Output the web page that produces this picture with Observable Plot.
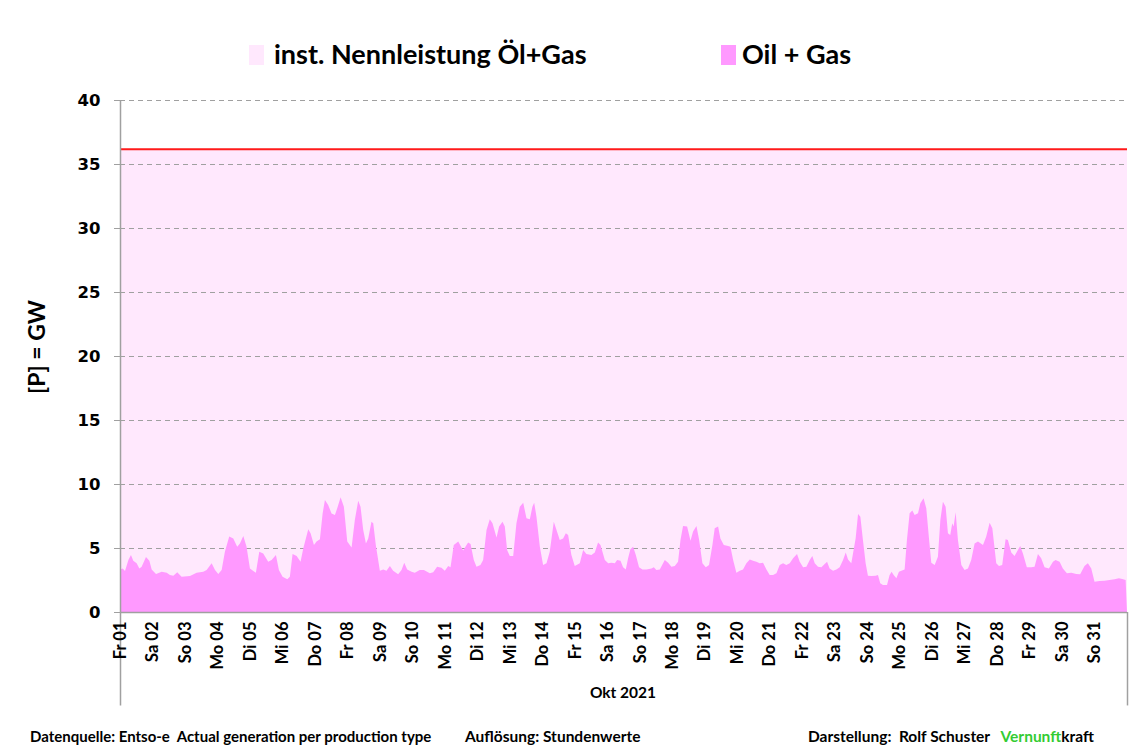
<!DOCTYPE html>
<html>
<head>
<meta charset="utf-8">
<script src="https://cdn.jsdelivr.net/npm/d3@7"></script>
<script src="https://cdn.jsdelivr.net/npm/@observablehq/plot@0.6"></script>
<style>
  html, body { margin: 0; padding: 0; background: #fff; }
  #wrap { position: relative; width: 1133px; height: 746px; overflow: hidden; font-family: Lato, "Open Sans", sans-serif; font-weight: bold; color: #000; }
  #wrap svg { position: absolute; left: 0; top: 0; }
  .ov { position: absolute; white-space: nowrap; line-height: 1.2; }
  .sw { position: absolute; width: 15px; height: 20px; }
</style>
</head>
<body>
<div id="wrap"></div>
<script>
// ---- data ----
// hour of October 2021 (0 = Fr 01 00:00) and generation Oil + Gas in GW
const hours = [0,2,3.7,6.2,8.1,9.8,12.3,14.3,16,19.2,21.7,23.4,26.6,30.8,34.5,36.9,39.4,42.3,45.5,51.7,56.6,61.5,64,67.7,70.2,72.6,75.1,77.5,80.7,83.7,86.6,88.6,91.1,93.5,96,98.5,100.4,102.9,105.8,109.5,112,115.2,117.4,120.1,123.6,125.5,127.5,130.5,133.4,135.4,139.1,140.8,143.3,145.2,147.7,149.7,151.4,153.8,156.3,158.8,160.5,163,165.4,167.9,171.1,
173.5,176,177.7,179.7,181.7,183.4,185.8,187.1,189,192,194.5,196.9,199.4,201.8,205.5,208,210,212.2,215.4,217.8,221.5,224.5,228.9,231.4,234.3,237.5,240,242.5,244.2,246.6,249.9,253.5,257.2,259,261.4,263.4,266.3,268.3,270.8,273.2,275.2,278.2,280.1,282.6,284.3,286,288,290.5,292.9,295.4,297.9,300.3,302.8,304.7,306,307.7,310.2,312.6,315.1,317.5,320.5,322.5,324.9,327.4,329.4,331.1,333.5,336,339.7,342.2,344.6,348.3,350.8,353.2,355,
358.2,360.7,363.1,365.6,367.3,369.8,371.7,373.7,375.4,377.1,379.1,381.1,383.5,386,389,392.7,394.4,396.3,398.8,402.5,405,407.4,409.9,412.3,414.1,416,419,421.5,423.4,425.9,427.9,430.3,432.8,435.2,437.7,439.4,441.9,443.6,446.1,449.3,451,453,455.4,457.9,460.3,462.8,465.3,467.7,470.2,472.6,475.1,477.6,480,482.5,485,487.4,489.9,492.3,494.8,497.3,500.2,502.2,504.7,507.1,509.6,511.5,513.3,515.7,518.2,519.9,522.4,524.3,526.8,529.3,531.7,534.2,536.2,537.9,540.3,
543.5,545.3,547,548.9,550.9,552.6,555.1,558.3,560,561.7,563.7,566.7,568.6,570.1,571.6,573.6,575.5,577.3,579.7,581.4,583.4,585.4,587.1,589.6,591.3,593.7,595.7,597.7,599.4,601.9,604.3,606.1,608,610,611.7,613.4,614.9,615.9,617.4,619.1,621.6,624,626.5,628.9,631.4,633.9,637.6,640,642.5,644.5,647.4,649.4,651.8,654.3,656,658.5,660.9,663.4,665.1,667.1,670,673.3,675.7,678.2,680.6,683.1,686.3,689.3,691.2,694.2,696.6,699.6,702.8,706.5,709.4,712.6,715.1,717.6,720,723.7,727.4,731.1,734.8,738,740.5,743,744];
const oilGas = [3.33,3.4,3.2,4.06,4.45,4.0,3.8,3.4,3.54,4.3,4.0,3.33,2.97,3.15,3.07,2.89,2.84,3.1,2.76,2.81,3.07,3.15,3.28,3.8,3.28,2.97,3.28,4.7,5.9,5.75,5.1,5.36,5.94,5.1,3.4,3.2,3.07,4.7,4.58,3.93,4.06,4.45,3.28,2.76,2.55,2.76,4.53,4.38,3.93,4.97,6.46,6.15,5.23,5.5,5.68,7.7,8.75,8.36,7.7,7.58,8.1,8.96,8.23,5.5,5.03,
7.19,8.7,8.23,6.4,5.36,5.75,7.06,6.93,5.23,3.23,3.33,3.23,3.59,3.23,2.94,3.28,3.85,3.33,3.15,3.07,3.28,3.28,3.02,3.1,3.54,3.46,3.23,3.59,3.49,5.23,5.5,4.8,5.42,5.31,4.06,3.54,3.67,4.06,6.4,7.24,6.93,5.83,6.67,7.06,6.67,4.84,4.38,4.38,6.93,8.23,8.54,7.32,7.24,8.23,8.54,7.45,5.1,3.67,3.8,4.71,7.06,6.4,5.63,5.75,6.15,6.02,4.45,3.59,3.8,4.84,4.53,4.45,4.64,5.42,5.23,
4.06,3.8,3.85,3.8,4.06,4.01,3.49,3.33,4.19,4.9,5.1,4.45,3.49,3.33,3.33,3.4,3.49,3.28,3.33,4.06,3.85,3.54,3.59,3.93,5.63,6.72,6.67,5.57,6.28,6.72,5.63,3.8,3.49,3.67,5.23,6.54,6.67,5.75,5.23,5.16,5.1,4.06,3.07,3.23,3.33,3.8,4.11,4.01,3.93,3.8,3.85,3.33,2.89,2.89,3.02,3.67,3.8,3.67,3.8,4.19,4.53,3.93,3.49,3.54,4.06,4.38,3.8,3.54,3.49,3.67,3.93,3.4,3.23,3.33,3.49,4.06,4.64,4.11,3.8,
5.75,7.66,7.45,5.63,3.8,2.84,2.81,2.84,2.89,2.24,2.11,2.11,2.89,3.15,2.89,2.63,3.15,3.23,3.33,5.63,7.71,7.92,7.58,7.71,8.49,8.88,8.1,5.75,3.85,3.67,4.32,7.19,8.62,8.23,6.15,6.02,6.93,6.67,7.79,5.63,3.67,3.28,3.4,4.06,5.36,5.5,5.23,5.89,6.98,6.54,3.8,3.59,3.67,5.68,5.63,4.64,4.38,4.84,5.16,4.58,3.49,3.49,3.54,4.53,4.19,3.49,3.4,3.93,4.06,3.93,3.4,3.02,3.07,2.97,2.94,3.59,3.8,3.4,2.37,2.42,2.45,2.5,2.55,2.63,2.58,2.5,0];
const installedCapacity = 36.2; // inst. Nennleistung Öl+Gas, GW
const dayLabels = ["Fr 01","Sa 02","So 03","Mo 04","Di 05","Mi 06","Do 07","Fr 08","Sa 09","So 10","Mo 11","Di 12","Mi 13","Do 14","Fr 15","Sa 16","So 17","Mo 18","Di 19","Mi 20","Do 21","Fr 22","Sa 23","So 24","Mo 25","Di 26","Mi 27","Do 28","Fr 29","Sa 30","So 31"];
const yTicks = [0,5,10,15,20,25,30,35,40];
const monthLabel = "Okt 2021";
const seriesNames = ["inst. Nennleistung Öl+Gas", "Oil + Gas"];

const series = hours.map((h, i) => ({h, v: oilGas[i]}));
const dayTicks = dayLabels.map((_, i) => i * 24);
const hourEnd = dayLabels.length * 24;
const capRows = [{h: 0, v: installedCapacity}, {h: hourEnd, v: installedCapacity}];

const C_CAP = "#ffe8fd", C_OIL = "#ff99ff", C_GRID = "#a0a0a0";

const chart = Plot.plot({
  width: 1133, height: 746,
  marginLeft: 120, marginRight: 6, marginTop: 100, marginBottom: 134,
  x: {domain: [0, hourEnd]},
  y: {domain: [0, 40]},
  style: {fontFamily: "Lato, sans-serif", background: "transparent", overflow: "visible"},
  marks: [
    Plot.areaY(capRows, {x: "h", y: "v", fill: C_CAP}),
    Plot.ruleY(yTicks.slice(1), {stroke: C_GRID, strokeWidth: 1.2, strokeDasharray: "5,4"}),
    Plot.areaY(series, {x: "h", y: "v", fill: C_OIL, curve: "linear"}),
    Plot.ruleY([installedCapacity], {stroke: "#ff1a1a", strokeWidth: 2}),
    Plot.ruleY([0], {stroke: C_GRID, strokeWidth: 1.5}),
    Plot.ruleX([0], {y1: -7.3, y2: 40, stroke: C_GRID, strokeWidth: 1.5}),
    Plot.ruleX([hourEnd], {y1: -7.3, y2: 0, stroke: C_GRID, strokeWidth: 1.5}),
    Plot.axisY({ticks: yTicks, tickSize: 6, tickPadding: 14, stroke: C_GRID, fontSize: 16.5, fontWeight: "bold", fontFamily: "DejaVu Sans", label: null}),
    Plot.axisX({ticks: dayTicks, tickFormat: d => dayLabels[d / 24], tickSize: 0, tickPadding: 9, tickRotate: -90, fontSize: 16.5, fontWeight: "bold", label: null})
  ]
});
const wrap = document.getElementById("wrap");
wrap.appendChild(chart);

function ov(html, css) {
  const d = document.createElement("div");
  d.className = "ov";
  d.innerHTML = html;
  Object.assign(d.style, css);
  wrap.appendChild(d);
  return d;
}
function sw(color, left, top) {
  const d = document.createElement("div");
  d.className = "sw";
  Object.assign(d.style, {background: color, left: left + "px", top: top + "px"});
  wrap.appendChild(d);
}
// legend
sw(C_CAP, 249, 45);
ov(seriesNames[0], {left: "274px", top: "38px", fontSize: "27px"});
sw(C_OIL, 721, 45);
ov(seriesNames[1], {left: "742px", top: "38px", fontSize: "27px"});
// y label
ov("[P] = GW", {left: "37px", top: "347px", fontSize: "23px", transform: "translate(-50%,-50%) rotate(-90deg)"});
// month label
ov(monthLabel, {left: "623px", top: "692px", fontSize: "15.5px", transform: "translate(-50%,-50%)"});
// footer
ov("Datenquelle: Entso-e&nbsp; Actual generation per production type", {left: "30px", top: "727px", fontSize: "15px"});
ov("Auflösung: Stundenwerte", {left: "465px", top: "727px", fontSize: "15.5px"});
ov("Darstellung:&nbsp; Rolf Schuster&nbsp;&nbsp; <span style='color:#33cc33'>Vernunft</span>kraft", {left: "808px", top: "727px", fontSize: "15.5px"});
</script>
</body>
</html>
